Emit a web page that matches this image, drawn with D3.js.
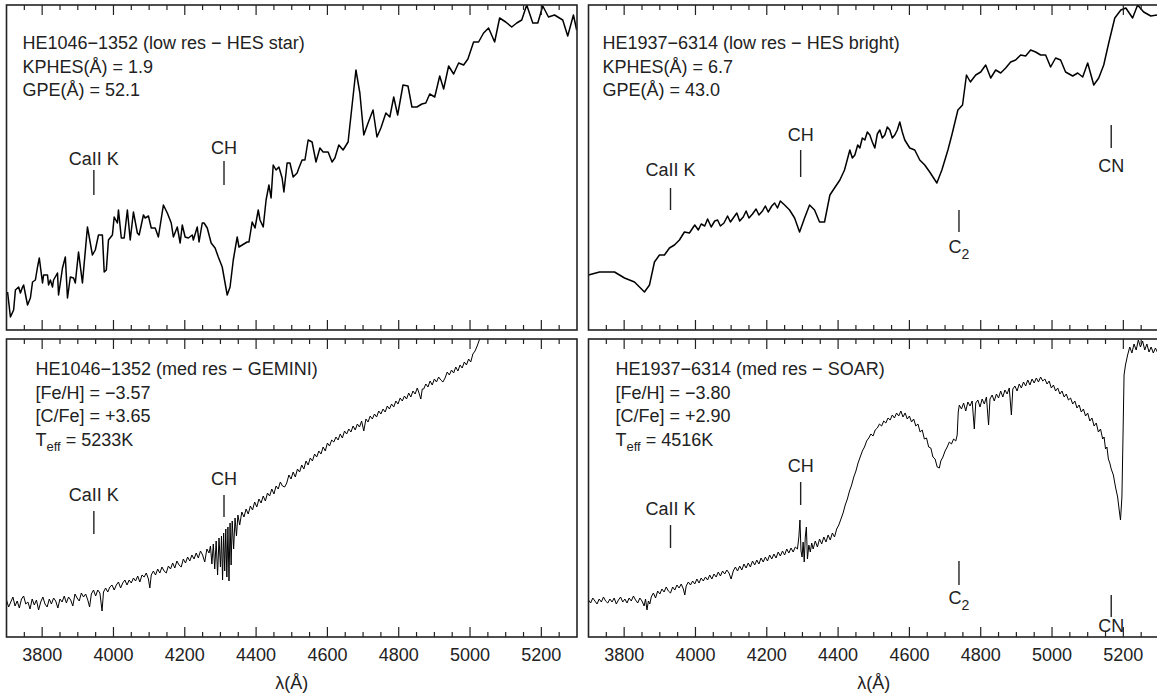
<!DOCTYPE html>
<html>
<head>
<meta charset="utf-8">
<script src="https://cdn.jsdelivr.net/npm/d3@7"></script>
<style>
body { margin: 0; background: #fff; }
text { font-family: "Liberation Sans", Arial, Helvetica, sans-serif; fill: #222; }
</style>
</head>
<body>
<div id="chart"></div>
<script>

// ---- data: [wavelength (A), relative flux] ----

var specHE1046Low = [
  [3703,38],[3711,13],[3720,20],[3725,40],[3734,43],[3739,37],[3745,43],[3748,45],[3759,25],[3767,32],
  [3773,48],[3781,50],[3787,63],[3792,72],[3801,47],[3804,55],[3815,55],[3818,45],[3823,50],[3829,43],
  [3832,50],[3843,57],[3846,35],[3857,62],[3865,73],[3871,32],[3879,53],[3888,52],[3893,47],[3902,78],
  [3913,47],[3927,103],[3941,75],[3949,80],[3958,95],[3969,95],[3974,58],[3980,60],[3986,90],[3997,95],
  [4002,113],[4011,107],[4014,120],[4022,92],[4030,92],[4039,120],[4047,90],[4056,118],[4067,97],[4072,95],
  [4084,115],[4089,112],[4098,114],[4106,102],[4117,102],[4126,93],[4140,125],[4151,117],[4162,107],[4168,93],
  [4179,103],[4187,87],[4193,105],[4201,93],[4210,92],[4221,95],[4224,90],[4235,103],[4240,88],[4249,107],
  [4254,107],[4263,102],[4274,87],[4285,82],[4294,73],[4305,63],[4310,53],[4319,35],[4327,43],[4336,70],
  [4347,93],[4352,83],[4361,85],[4375,88],[4380,88],[4389,108],[4397,102],[4406,120],[4411,110],[4420,103],
  [4428,130],[4436,145],[4442,132],[4448,165],[4456,160],[4464,163],[4473,152],[4478,138],[4487,167],[4495,167],
  [4504,153],[4515,157],[4520,162],[4529,170],[4537,170],[4546,190],[4557,188],[4568,168],[4579,182],[4588,178],
  [4602,178],[4613,168],[4621,172],[4632,185],[4644,180],[4658,188],[4680,260],[4691,237],[4702,195],[4714,207],
  [4728,220],[4739,193],[4750,202],[4764,217],[4775,213],[4786,233],[4797,215],[4812,245],[4826,244],[4837,223],
  [4851,223],[4865,226],[4876,227],[4887,236],[4901,233],[4915,254],[4926,241],[4940,264],[4954,256],[4968,267],
  [4982,265],[4994,271],[5010,288],[5024,288],[5038,297],[5052,302],[5069,288],[5083,312],[5100,308],[5117,303],
  [5131,307],[5145,310],[5159,325],[5176,307],[5190,307],[5204,324],[5220,313],[5237,315],[5260,310],[5274,294],
  [5290,315],[5299,300]
];

var specHE1937Low = [
  [3700,55],[3731,58],[3773,58],[3801,52],[3829,48],[3857,38],[3871,45],[3885,68],[3899,75],[3913,75],
  [3927,82],[3941,85],[3955,90],[3969,98],[3983,97],[3998,105],[4008,100],[4016,106],[4026,104],[4034,111],
  [4044,103],[4054,109],[4062,110],[4070,104],[4080,107],[4090,114],[4098,108],[4106,112],[4116,117],[4124,109],
  [4134,113],[4142,119],[4150,112],[4160,116],[4170,121],[4178,115],[4188,119],[4196,124],[4204,118],[4214,124],
  [4222,127],[4230,122],[4238,129],[4250,125],[4264,120],[4278,112],[4292,98],[4306,112],[4320,125],[4334,120],
  [4348,108],[4362,108],[4377,135],[4390,142],[4405,150],[4418,160],[4433,180],[4440,172],[4447,175],[4455,185],
  [4461,182],[4468,192],[4475,190],[4482,198],[4489,195],[4496,188],[4503,182],[4510,196],[4517,200],[4524,192],
  [4531,195],[4538,203],[4545,200],[4552,192],[4559,195],[4566,200],[4573,208],[4580,198],[4587,190],[4594,186],
  [4601,182],[4615,180],[4629,170],[4643,165],[4657,158],[4677,147],[4691,160],[4708,180],[4719,195],[4736,220],
  [4749,225],[4760,255],[4771,248],[4786,255],[4800,258],[4814,265],[4828,252],[4842,260],[4856,257],[4870,262],
  [4884,268],[4898,270],[4912,275],[4926,274],[4940,280],[4954,278],[4968,275],[4982,275],[4996,263],[5010,272],
  [5024,270],[5038,258],[5058,254],[5072,257],[5086,253],[5100,267],[5117,245],[5131,252],[5145,265],[5159,287],
  [5176,312],[5193,320],[5207,322],[5226,312],[5240,325],[5257,318],[5277,314],[5296,315]
];

var specHE1046Med = [
  [3700,37],[3706,30],[3712,35],[3718,40],[3724,31],[3730,36],[3736,29],[3742,38],[3748,41],[3754,33],
  [3760,35],[3766,28],[3772,38],[3778,32],[3784,37],[3790,27],[3796,35],[3802,40],[3808,33],[3814,30],
  [3820,38],[3826,33],[3832,39],[3838,36],[3844,29],[3850,38],[3856,35],[3862,41],[3868,34],[3874,40],
  [3880,37],[3886,31],[3892,43],[3898,39],[3904,36],[3910,44],[3916,40],[3922,43],[3928,37],[3933,30],
  [3938,43],[3944,47],[3950,41],[3956,47],[3962,44],[3968,26],[3972,45],[3978,49],[3984,45],[3990,50],
  [3996,52],[4002,47],[4008,52],[4014,55],[4020,49],[4026,54],[4032,57],[4038,52],[4044,57],[4050,54],
  [4056,59],[4062,56],[4068,61],[4074,55],[4080,62],[4086,60],[4092,64],[4098,58],[4102,49],[4106,62],
  [4112,66],[4118,62],[4124,68],[4130,64],[4136,70],[4142,66],[4148,64],[4154,71],[4160,68],[4166,74],
  [4172,69],[4178,76],[4184,72],[4190,70],[4196,78],[4202,74],[4208,80],[4214,76],[4220,82],[4226,78],
  [4232,84],[4238,79],[4244,86],[4250,82],[4256,75],[4262,88],[4268,84],[4272,91],[4276,73],[4280,93],
  [4284,68],[4288,96],[4292,62],[4296,99],[4300,70],[4303,101],[4306,57],[4309,104],[4312,66],[4315,108],
  [4318,60],[4321,110],[4324,56],[4327,114],[4330,72],[4333,116],[4337,88],[4341,119],[4345,101],[4349,122],
  [4354,112],[4360,125],[4366,120],[4372,128],[4378,123],[4384,131],[4390,127],[4396,135],[4402,130],[4408,138],
  [4414,134],[4420,141],[4426,136],[4432,144],[4438,141],[4444,148],[4450,143],[4456,151],[4462,148],[4468,155],
  [4474,151],[4480,150],[4486,154],[4492,162],[4498,158],[4504,165],[4510,160],[4516,168],[4522,165],[4528,172],
  [4534,168],[4540,176],[4546,172],[4552,179],[4558,176],[4564,183],[4570,180],[4576,186],[4582,183],[4588,190],
  [4594,186],[4600,194],[4606,191],[4612,197],[4618,195],[4624,200],[4630,197],[4636,203],[4642,199],[4648,206],
  [4654,203],[4660,208],[4666,205],[4672,211],[4678,207],[4684,213],[4690,210],[4696,216],[4702,206],[4708,218],
  [4714,215],[4720,221],[4726,218],[4732,223],[4738,220],[4744,226],[4750,223],[4756,228],[4762,225],[4768,231],
  [4774,228],[4780,233],[4786,230],[4792,236],[4798,233],[4804,239],[4810,236],[4816,241],[4822,238],[4828,244],
  [4834,240],[4840,246],[4846,243],[4852,249],[4856,245],[4862,238],[4866,248],[4870,248],[4876,253],[4882,250],
  [4888,256],[4894,252],[4900,258],[4906,255],[4912,260],[4918,257],[4924,255],[4930,259],[4936,265],[4942,262],
  [4948,267],[4954,264],[4960,270],[4966,266],[4972,272],[4978,269],[4984,275],[4990,272],[4996,278],[5002,275],
  [5008,283],[5014,286],[5020,291],[5024,295],[5028,299]
];

var specHE1937Med = [
  [3700,37],[3706,34],[3712,39],[3718,36],[3724,33],[3730,38],[3736,35],[3742,40],[3748,36],[3754,34],
  [3760,38],[3766,35],[3772,39],[3778,33],[3784,37],[3790,40],[3796,35],[3802,38],[3808,34],[3814,39],
  [3820,36],[3826,41],[3832,37],[3838,34],[3844,39],[3850,36],[3856,31],[3860,38],[3864,27],[3868,36],
  [3872,33],[3876,40],[3882,44],[3888,39],[3894,46],[3900,43],[3906,48],[3912,45],[3918,50],[3924,46],
  [3930,44],[3936,50],[3942,47],[3948,52],[3954,49],[3960,53],[3966,48],[3970,42],[3974,51],[3980,55],
  [3986,52],[3992,56],[3998,53],[4004,58],[4010,54],[4016,59],[4022,56],[4028,60],[4034,57],[4040,62],
  [4046,58],[4052,63],[4058,60],[4064,65],[4070,61],[4076,66],[4082,63],[4088,67],[4094,64],[4100,58],
  [4106,66],[4112,70],[4118,66],[4124,71],[4130,67],[4136,73],[4142,69],[4148,74],[4154,70],[4160,76],
  [4166,72],[4172,77],[4178,73],[4184,79],[4190,75],[4196,80],[4202,76],[4208,82],[4214,78],[4220,83],
  [4226,79],[4232,85],[4238,81],[4244,86],[4250,82],[4256,88],[4262,84],[4268,89],[4274,85],[4280,90],
  [4286,88],[4290,100],[4293,117],[4296,86],[4299,80],[4302,95],[4305,75],[4308,100],[4311,110],[4314,78],
  [4318,92],[4322,85],[4326,94],[4330,88],[4336,96],[4342,90],[4348,98],[4354,93],[4360,100],[4366,95],
  [4372,102],[4378,97],[4384,104],[4390,100],[4396,108],[4402,112],[4408,118],[4414,124],[4420,132],[4426,138],
  [4432,146],[4438,152],[4444,160],[4450,166],[4456,174],[4462,180],[4468,186],[4474,190],[4480,196],[4486,199],
  [4492,203],[4498,201],[4504,207],[4510,209],[4516,213],[4522,211],[4528,216],[4534,214],[4540,219],[4546,217],
  [4552,222],[4558,219],[4564,224],[4570,221],[4576,226],[4582,220],[4588,224],[4594,218],[4600,221],[4606,215],
  [4612,218],[4618,211],[4624,213],[4630,205],[4636,207],[4642,198],[4648,199],[4654,190],[4660,189],[4666,180],
  [4672,178],[4678,170],[4684,169],[4688,176],[4694,180],[4700,186],[4706,190],[4712,195],[4718,193],[4724,198],
  [4730,196],[4734,202],[4737,225],[4740,232],[4746,228],[4752,234],[4758,226],[4764,235],[4770,231],[4776,236],
  [4782,208],[4786,234],[4792,237],[4798,230],[4804,238],[4810,233],[4816,240],[4822,212],[4826,238],[4832,242],
  [4838,236],[4844,243],[4850,239],[4856,246],[4862,240],[4868,247],[4874,243],[4880,249],[4886,222],[4890,248],
  [4896,251],[4902,246],[4908,253],[4914,249],[4920,255],[4926,251],[4932,257],[4938,252],[4944,258],[4950,254],
  [4956,259],[4962,255],[4968,260],[4974,256],[4980,258],[4986,253],[4992,256],[4998,249],[5004,252],[5010,246],
  [5016,249],[5022,243],[5028,246],[5034,240],[5040,243],[5046,237],[5052,239],[5058,233],[5064,236],[5070,229],
  [5076,232],[5082,225],[5088,228],[5094,221],[5100,224],[5106,216],[5112,219],[5118,211],[5124,214],[5130,205],
  [5136,208],[5142,198],[5146,200],[5150,188],[5154,190],[5158,178],[5162,174],[5166,168],[5172,162],[5178,150],
  [5184,140],[5188,128],[5192,117],[5196,140],[5199,200],[5202,262],[5206,272],[5212,282],[5218,290],[5224,284],
  [5230,293],[5236,287],[5242,297],[5248,290],[5254,296],[5260,287],[5266,293],[5272,285],[5278,290],[5284,284],
  [5290,289],[5298,283]
];

var infoHE1046Low = ["HE1046\u22121352 (low res \u2212 HES star)", "KPHES(\u00C5) = 1.9", "GPE(\u00C5) = 52.1"];
var infoHE1937Low = ["HE1937\u22126314 (low res \u2212 HES bright)", "KPHES(\u00C5) = 6.7", "GPE(\u00C5) = 43.0"];
var infoHE1046Med = ["HE1046\u22121352 (med res \u2212 GEMINI)", "[Fe/H] = \u22123.57", "[C/Fe] = +3.65", "Teff = 5233K"];
var infoHE1937Med = ["HE1937\u22126314 (med res \u2212 SOAR)", "[Fe/H] = \u22123.80", "[C/Fe] = +2.90", "Teff = 4516K"];

// feature labels: name, wavelength
var featuresHE1046 = [["CaII K", 3945], ["CH", 4310]];
var featuresHE1937 = [["CaII K", 3930], ["CH", 4295], ["C2", 4739], ["CN", 5166]];

var waveRange = [3700, 5300];
var tickLabels = [3800, 4000, 4200, 4400, 4600, 4800, 5000, 5200];

// ---- layout ----
var width = 1157, height = 693;
var fontSize = "18px";

var svg = d3.select("#chart").append("svg")
    .attr("width", width)
    .attr("height", height);

// label placement (offsets from the panel top): label baseline, tick top, tick bottom
var panels = [
  { x0: 6.5, x1: 577, y0: 5, y1: 330, fmax: 325, spec: specHE1046Low, info: infoHE1046Low,
    infoX: 16, infoY: 44, infoDy: 23.5, lw: 1.5, axisLabels: false,
    feats: featuresHE1046, featPos: [[160, 165, 190], [149, 156, 180]] },
  { x0: 588.5, x1: 1159, y0: 5, y1: 330, fmax: 325, spec: specHE1937Low, info: infoHE1937Low,
    infoX: 14, infoY: 44, infoDy: 23.5, lw: 1.5, axisLabels: false,
    feats: featuresHE1937, featPos: [[171, 183, 205], [136, 145, 172], [248, 205, 227], [167, 120, 143]] },
  { x0: 6.5, x1: 577, y0: 339, y1: 637, fmax: 298, spec: specHE1046Med, info: infoHE1046Med,
    infoX: 29, infoY: 36, infoDy: 23.5, lw: 1, axisLabels: true,
    feats: featuresHE1046, featPos: [[162, 172, 195], [146, 156, 178]] },
  { x0: 588.5, x1: 1159, y0: 339, y1: 637, fmax: 298, spec: specHE1937Med, info: infoHE1937Med,
    infoX: 27, infoY: 36, infoDy: 23.5, lw: 1, axisLabels: true,
    feats: featuresHE1937, featPos: [[176, 186, 209], [133, 143, 166], [265, 222, 246], [293, 256, 278]] }
];

panels.forEach(function(p, i) {

    var x = d3.scaleLinear().domain(waveRange).range([p.x0, p.x1]);
    var y = d3.scaleLinear().domain([0, p.fmax]).range([p.y1, p.y0]);

    var g = svg.append("g").attr("class", "panel");

    g.append("clipPath").attr("id", "clip" + i)
      .append("rect")
        .attr("x", p.x0).attr("y", p.y0)
        .attr("width", p.x1 - p.x0).attr("height", p.y1 - p.y0);

    // the spectrum
    var line = d3.line()
        .x(function(d) { return x(d[0]); })
        .y(function(d) { return y(d[1]); });

    g.append("path")
        .datum(p.spec)
        .attr("clip-path", "url(#clip" + i + ")")
        .attr("fill", "none")
        .attr("stroke", "#000")
        .attr("stroke-width", p.lw)
        .attr("stroke-linejoin", "round")
        .attr("d", line);

    // frame
    g.append("rect")
        .attr("x", p.x0).attr("y", p.y0)
        .attr("width", p.x1 - p.x0).attr("height", p.y1 - p.y0)
        .attr("fill", "none")
        .attr("stroke", "#222")
        .attr("stroke-width", 1.6);

    // ticks every 50 A, longer every 200 A, on top and bottom, pointing in
    var ticks = d3.range(waveRange[0] + 50, waveRange[1], 50);
    ticks.forEach(function(t) {
        var len = (t % 200 === 0) ? 10 : 5;
        g.append("line")
            .attr("x1", x(t)).attr("x2", x(t))
            .attr("y1", p.y0).attr("y2", p.y0 + len)
            .attr("stroke", "#222").attr("stroke-width", 1.2);
        g.append("line")
            .attr("x1", x(t)).attr("x2", x(t))
            .attr("y1", p.y1).attr("y2", p.y1 - len)
            .attr("stroke", "#222").attr("stroke-width", 1.2);
    });

    if (p.axisLabels) {
        g.selectAll(".tlab")
            .data(tickLabels)
            .enter().append("text")
            .attr("class", "tlab")
            .attr("x", function(d) { return x(d); })
            .attr("y", p.y1 + 24)
            .attr("text-anchor", "middle")
            .style("font-size", fontSize)
            .text(function(d) { return d; });

        g.append("text")
            .attr("x", x(4500))
            .attr("y", 689)
            .attr("text-anchor", "middle")
            .style("font-size", fontSize)
            .text("\u03BB(\u00C5)");
    }

    // info block
    p.info.forEach(function(s, k) {
        var t = g.append("text")
            .attr("x", p.x0 + p.infoX)
            .attr("y", p.y0 + p.infoY + k * p.infoDy)
            .style("font-size", fontSize);
        if (s.indexOf("Teff") === 0) {
            t.append("tspan").text("T");
            t.append("tspan").attr("dy", 5).style("font-size", "13px").text("eff");
            t.append("tspan").attr("dy", -5).text(s.slice(4));
        } else {
            t.text(s);
        }
    });

    // feature markers
    p.feats.forEach(function(f, k) {
        var pos = p.featPos[k];
        var fx = x(f[1]);
        g.append("line")
            .attr("x1", fx).attr("x2", fx)
            .attr("y1", p.y0 + pos[1]).attr("y2", p.y0 + pos[2])
            .attr("stroke", "#222").attr("stroke-width", 1.4);
        var t = g.append("text")
            .attr("x", fx)
            .attr("y", p.y0 + pos[0])
            .attr("text-anchor", "middle")
            .style("font-size", fontSize);
        if (f[0] === "C2") {
            t.append("tspan").text("C");
            t.append("tspan").attr("dy", 6).style("font-size", "14px").text("2");
        } else {
            t.text(f[0]);
        }
    });
});

</script>
</body>
</html>
